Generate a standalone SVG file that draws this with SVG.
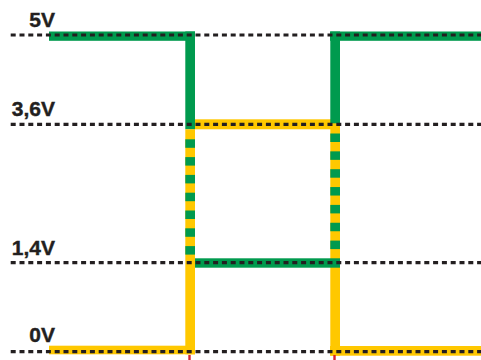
<svg xmlns="http://www.w3.org/2000/svg" width="481" height="360" viewBox="0 0 481 360">
<style>
.g{fill:#009A4E}
.y{fill:#FFC800}
.d{stroke:#231F20;stroke-width:3.2;stroke-dasharray:5 3.8;fill:none}
.t{font-family:"Liberation Sans",Arial,sans-serif;font-weight:bold;font-size:21px;fill:#231F20;stroke:#231F20;stroke-width:0.4;text-anchor:end}
.r{stroke:#D7232E;stroke-width:2.4}
</style>
<rect width="481" height="360" fill="#fff"/>
<g id="yellow-signal">
<rect class="y" x="190" y="119.3" width="150" height="10"/>
<rect class="y" x="49" y="345.7" width="146" height="8.6"/>
<rect class="y" x="330" y="346" width="151" height="9.7"/>
<rect class="y" x="330.3" y="123.3" width="9.7" height="232.4"/>
</g>
<g id="green-signal">
<rect class="g" x="49" y="31.5" width="146" height="9.3"/>
<rect class="g" x="185.3" y="31.5" width="9.7" height="97.8"/>
<rect class="g" x="330" y="31.5" width="151" height="9.3"/>
<rect class="g" x="330.3" y="31.5" width="9.7" height="91.8"/>
<rect class="g" x="195" y="258.3" width="145" height="9.4"/>
</g>
<g id="left-transition">
<rect class="y" x="185.3" y="129.3" width="9.7" height="225"/>
<g class="g">
<rect x="185.3" y="139.3" width="9.7" height="8.5"/>
<rect x="185.3" y="157.1" width="9.7" height="8.5"/>
<rect x="185.3" y="174.9" width="9.7" height="8.5"/>
<rect x="185.3" y="192.7" width="9.7" height="8.5"/>
<rect x="185.3" y="210.5" width="9.7" height="8.5"/>
<rect x="185.3" y="228.3" width="9.7" height="8.5"/>
<rect x="185.3" y="246.1" width="9.7" height="8.5"/>
</g>
</g>
<g id="right-transition" class="g">
<rect x="330.3" y="133.5" width="9.7" height="8.5"/>
<rect x="330.3" y="151.35" width="9.7" height="8.5"/>
<rect x="330.3" y="169.2" width="9.7" height="8.5"/>
<rect x="330.3" y="187.05" width="9.7" height="8.5"/>
<rect x="330.3" y="204.9" width="9.7" height="8.5"/>
<rect x="330.3" y="222.75" width="9.7" height="8.5"/>
<rect x="330.3" y="240.6" width="9.7" height="8.5"/>
</g>
<g id="levels">
<line class="d" x1="10.7" y1="35" x2="481" y2="35"/>
<line class="d" x1="10.7" y1="124.3" x2="481" y2="124.3"/>
<line class="d" x1="10.7" y1="262.7" x2="481" y2="262.7"/>
<line class="d" x1="10.7" y1="351.7" x2="481" y2="351.7"/>
</g>
<g id="ticks">
<line class="r" x1="189.5" y1="355" x2="189.5" y2="360"/>
<line class="r" x1="334.5" y1="355" x2="334.5" y2="360"/>
</g>
<g id="labels">
<text class="t" x="55" y="26.7">5V</text>
<text class="t" x="55" y="116">3,6V</text>
<text class="t" x="55" y="255">1,4V</text>
<text class="t" x="55" y="342">0V</text>
</g>
</svg>
